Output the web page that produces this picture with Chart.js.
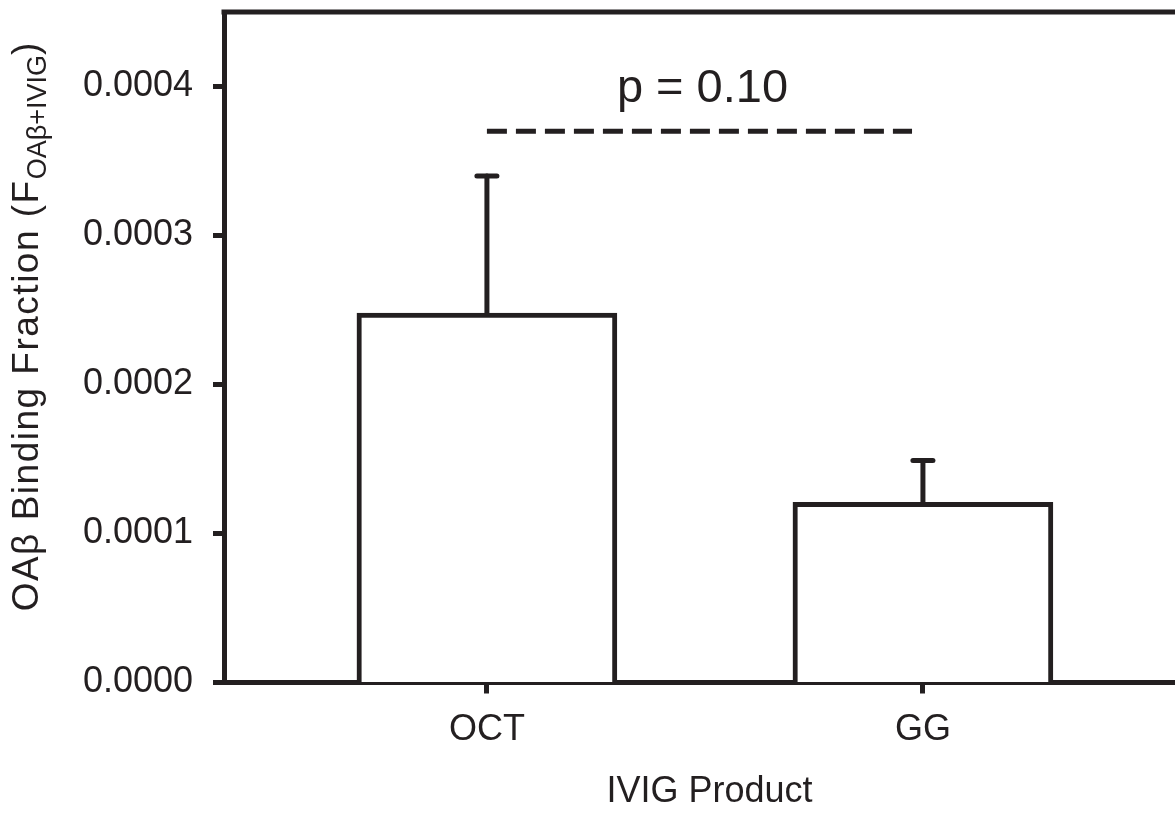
<!DOCTYPE html>
<html lang="en">
<head>
    <meta charset="UTF-8">
    <script src="https://cdn.jsdelivr.net/npm/chart.js"></script>
    <title>OAβ Binding Fraction</title>
    <style>
        html, body { margin: 0; padding: 0; background: #fff; overflow: hidden; }
        .grafico { width: 1195px; height: 814px; }
    </style>
</head>
<body>
    <div class="grafico"><canvas id="Grafico1"></canvas></div>

<script>
    // dados
    var produtos = ['OCT', 'GG'];
    var posicoes = [1, 2];
    var fracao = [0.000248, 0.000121];
    var erroSup = [0.000092, 0.000028];
    var yTicks = [0, 0.0001, 0.0002, 0.0003, 0.0004];
    var sigInicio = 1, sigFim = 1.975, sigY = 0.00037;
    var sigTexto = 'p = 0.10';

    var cor = '#231f20';
    var fonte = '"Liberation Sans", Arial, sans-serif';

    var moldura = {
        id: 'moldura',
        afterDatasetsDraw: function (chart) {
            var ctx = chart.ctx, area = chart.chartArea;
            var x = chart.scales.x, y = chart.scales.y;
            ctx.save();
            ctx.strokeStyle = cor;
            ctx.lineWidth = 5;

            // borda de cima
            ctx.beginPath();
            ctx.moveTo(area.left - 2.5, area.top);
            ctx.lineTo(area.right, area.top);
            ctx.stroke();

            // barras de erro (só para cima)
            ctx.lineCap = 'round';
            for (var i = 0; i < posicoes.length; i++) {
                var px = x.getPixelForValue(posicoes[i]);
                var y0 = y.getPixelForValue(fracao[i]);
                var y1 = y.getPixelForValue(fracao[i] + erroSup[i]);
                ctx.beginPath();
                ctx.moveTo(px, y0);
                ctx.lineTo(px, y1);
                ctx.stroke();
                ctx.beginPath();
                ctx.moveTo(px - 10, y1);
                ctx.lineTo(px + 10, y1);
                ctx.stroke();
            }

            // linha de significância
            ctx.lineCap = 'butt';
            ctx.setLineDash([20, 9]);
            var sx0 = x.getPixelForValue(sigInicio), sx1 = x.getPixelForValue(sigFim);
            var sy = y.getPixelForValue(sigY);
            ctx.beginPath();
            ctx.moveTo(sx0, sy);
            ctx.lineTo(sx1, sy);
            ctx.stroke();
            ctx.setLineDash([]);

            ctx.fillStyle = cor;
            ctx.font = '47px ' + fonte;
            ctx.textAlign = 'center';
            ctx.textBaseline = 'alphabetic';
            ctx.fillText(sigTexto, (sx0 + sx1) / 2 + 3, sy - 29);

            // título do eixo y com subscrito
            var principal = 'OAβ Binding Fraction (F';
            var sub = 'OAβ+IVIG';
            var fim = ')';
            ctx.letterSpacing = '1.5px';
            ctx.font = '37px ' + fonte;
            var w1 = ctx.measureText(principal).width;
            var w3 = ctx.measureText(fim).width;
            ctx.letterSpacing = '0px';
            ctx.font = '27px ' + fonte;
            var w2 = ctx.measureText(sub).width;
            var total = w1 + w2 + w3;
            ctx.translate(38, (area.top + area.bottom) / 2 - 21);
            ctx.rotate(-Math.PI / 2);
            ctx.textAlign = 'left';
            ctx.letterSpacing = '1.5px';
            ctx.font = '37px ' + fonte;
            ctx.fillText(principal, -total / 2, 0);
            ctx.fillText(fim, -total / 2 + w1 + w2, 0);
            ctx.letterSpacing = '0px';
            ctx.font = '27px ' + fonte;
            ctx.fillText(sub, -total / 2 + w1, 8);
            ctx.restore();
        }
    };

    var pontos = posicoes.map(function (p, i) { return { x: p, y: fracao[i] }; });

    var config = {
        type: 'bar',
        data: {
            datasets: [{
                data: pontos,
                backgroundColor: '#ffffff',
                borderColor: cor,
                borderWidth: 5,
                borderSkipped: 'start',
                barThickness: 260
            }]
        },
        options: {
            responsive: true,
            maintainAspectRatio: false,
            animation: false,
            layout: { padding: { top: 12, right: 0, bottom: 0, left: 0 } },
            plugins: {
                legend: { display: false },
                tooltip: { enabled: false }
            },
            scales: {
                x: {
                    type: 'linear',
                    min: 0.397,
                    max: 2.624,
                    offset: false,
                    afterBuildTicks: function (s) { s.ticks = posicoes.map(function (v) { return { value: v }; }); },
                    afterFit: function (s) { s.height = 131.5; s.paddingLeft = 0; s.paddingRight = 0; },
                    grid: { display: true, offset: false, drawOnChartArea: false, tickLength: 11, tickWidth: 5, tickColor: cor },
                    border: { display: true, color: cor, width: 5 },
                    ticks: {
                        callback: function (v) { return produtos[posicoes.indexOf(v)]; },
                        color: cor,
                        font: { family: fonte, size: 36 },
                        padding: 15,
                        maxRotation: 0,
                        autoSkip: false
                    },
                    title: {
                        display: true,
                        text: 'IVIG Product',
                        color: cor,
                        font: { family: fonte, size: 36 },
                        padding: { top: 20, bottom: 0 }
                    }
                },
                y: {
                    min: 0,
                    max: 0.00045,
                    afterBuildTicks: function (s) { s.ticks = yTicks.map(function (v) { return { value: v }; }); },
                    afterFit: function (s) { s.width = 224; s.paddingTop = 0; s.paddingBottom = 0; },
                    grid: { display: true, drawOnChartArea: false, tickLength: 11, tickWidth: 5, tickColor: cor },
                    border: { display: true, color: cor, width: 5 },
                    ticks: {
                        callback: function (v) { return Number(v).toFixed(4); },
                        color: cor,
                        font: { family: fonte, size: 36 },
                        padding: 20
                    }
                }
            }
        },
        plugins: [moldura]
    };

    new Chart(document.getElementById('Grafico1').getContext('2d'), config);
</script>
</body>
</html>
